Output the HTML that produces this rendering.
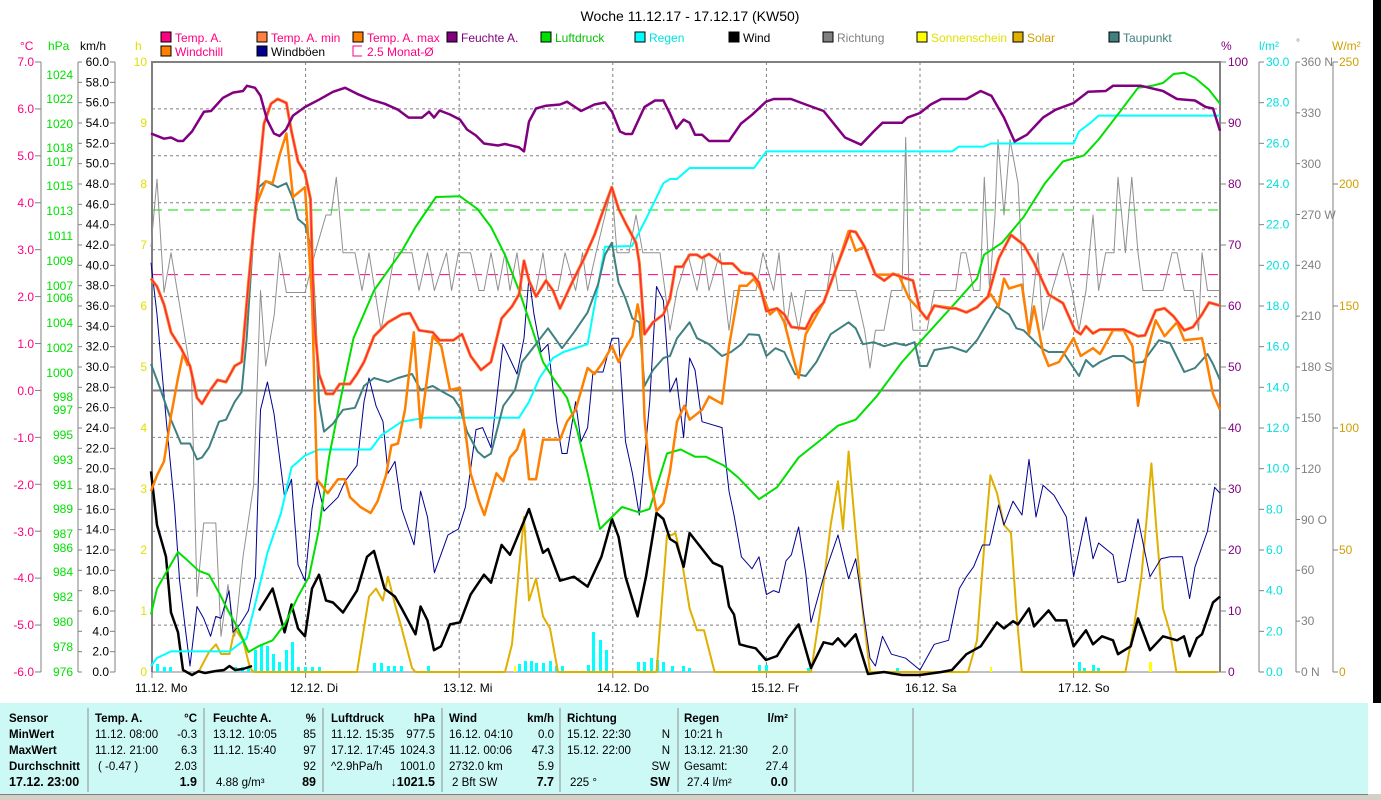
<!DOCTYPE html>
<html><head><meta charset="utf-8"><style>
html,body{margin:0;padding:0;background:#fff;}
svg{display:block;font-family:"Liberation Sans",sans-serif;}
</style></head><body>
<svg width="1381" height="800" viewBox="0 0 1381 800" xmlns="http://www.w3.org/2000/svg">
<rect x="0" y="0" width="1381" height="800" fill="#fff"/>
<rect x="1373" y="0" width="8" height="703" fill="#000"/>
<!-- title -->
<text x="690" y="21" font-size="14" text-anchor="middle" fill="#000">Woche 11.12.17 - 17.12.17 (KW50)</text>
<!-- legend -->
<g font-size="12">
<rect x="161" y="32" width="10" height="10" fill="#ff0080" stroke="#000"/><text x="175" y="42" fill="#ff0080">Temp. A.</text>
<rect x="257" y="32" width="10" height="10" fill="#ff8040" stroke="#000"/><text x="271" y="42" fill="#ff0080">Temp. A. min</text>
<rect x="353" y="32" width="10" height="10" fill="#ff8000" stroke="#000"/><text x="367" y="42" fill="#ff0080">Temp. A. max</text>
<rect x="447" y="32" width="10" height="10" fill="#800080" stroke="#000"/><text x="461" y="42" fill="#800080">Feuchte A.</text>
<rect x="541" y="32" width="10" height="10" fill="#00e000" stroke="#000"/><text x="555" y="42" fill="#00c000">Luftdruck</text>
<rect x="635" y="32" width="10" height="10" fill="#00ffff" stroke="#000"/><text x="649" y="42" fill="#00e0e0">Regen</text>
<rect x="729" y="32" width="10" height="10" fill="#000" stroke="#000"/><text x="743" y="42" fill="#000">Wind</text>
<rect x="823" y="32" width="10" height="10" fill="#808080" stroke="#000"/><text x="837" y="42" fill="#808080">Richtung</text>
<rect x="917" y="32" width="10" height="10" fill="#ffff00" stroke="#000"/><text x="931" y="42" fill="#e0e000">Sonnenschein</text>
<rect x="1013" y="32" width="10" height="10" fill="#e0b000" stroke="#000"/><text x="1027" y="42" fill="#d0a000">Solar</text>
<rect x="1109" y="32" width="10" height="10" fill="#408080" stroke="#000"/><text x="1123" y="42" fill="#408080">Taupunkt</text>
<rect x="161" y="46" width="10" height="10" fill="#ff8000" stroke="#000"/><text x="175" y="56" fill="#ff0080">Windchill</text>
<rect x="257" y="46" width="10" height="10" fill="#000090" stroke="#000"/><text x="271" y="56" fill="#000">Windböen</text>
<path d="M362 46 H353 V56 H362" fill="none" stroke="#ff0080"/><text x="367" y="56" fill="#ff0080">2.5 Monat-Ø</text>
</g>
<!-- axis headers -->
<g font-size="12">
<text x="20" y="50" fill="#ff0080">°C</text>
<text x="48" y="50" fill="#00e000">hPa</text>
<text x="80" y="50" fill="#000">km/h</text>
<text x="135" y="50" fill="#e0e000">h</text>
<text x="1221" y="50" fill="#800080">%</text>
<text x="1259" y="50" fill="#00e0e0">l/m²</text>
<text x="1296" y="46" fill="#808080" font-size="10">°</text>
<text x="1332" y="50" fill="#d0a000">W/m²</text>
</g>
<!-- left axes lines -->
<g stroke="#808080" stroke-width="1">
<line x1="41" y1="62" x2="41" y2="672"/><line x1="78" y1="62" x2="78" y2="672"/><line x1="115" y1="62" x2="115" y2="672"/>
<line x1="1259" y1="62" x2="1259" y2="672"/><line x1="1296" y1="62" x2="1296" y2="672"/><line x1="1333" y1="62" x2="1333" y2="672"/>
</g>
<g id="ticks" stroke="#808080"></g>
<!-- gridlines -->
<g stroke="#808080" stroke-dasharray="3,3" stroke-width="1">
<line x1="152" y1="108.9" x2="1220" y2="108.9"/><line x1="152" y1="155.8" x2="1220" y2="155.8"/>
<line x1="152" y1="202.8" x2="1220" y2="202.8"/><line x1="152" y1="249.7" x2="1220" y2="249.7"/>
<line x1="152" y1="296.6" x2="1220" y2="296.6"/><line x1="152" y1="343.5" x2="1220" y2="343.5"/>
<line x1="152" y1="437.4" x2="1220" y2="437.4"/><line x1="152" y1="484.3" x2="1220" y2="484.3"/>
<line x1="152" y1="531.2" x2="1220" y2="531.2"/><line x1="152" y1="578.2" x2="1220" y2="578.2"/>
<line x1="152" y1="625.1" x2="1220" y2="625.1"/>
<line x1="305.6" y1="62" x2="305.6" y2="672"/><line x1="459.2" y1="62" x2="459.2" y2="672"/>
<line x1="612.8" y1="62" x2="612.8" y2="672"/><line x1="766.4" y1="62" x2="766.4" y2="672"/>
<line x1="920" y1="62" x2="920" y2="672"/><line x1="1073.6" y1="62" x2="1073.6" y2="672"/>
</g>
<line x1="152" y1="390.5" x2="1220" y2="390.5" stroke="#808080" stroke-width="2"/>
<line x1="152" y1="210" x2="1220" y2="210" stroke="#00e000" stroke-dasharray="10,6"/>
<line x1="152" y1="274.6" x2="1220" y2="274.6" stroke="#ff0080" stroke-dasharray="10,6"/>
<!-- frame -->
<path d="M152 672 V62 H1220 V672" fill="none" stroke="#808080" stroke-width="2"/>
<line x1="152" y1="672" x2="1220" y2="672" stroke="#808080"/>
<g stroke="#808080"><line x1="152" y1="672" x2="152" y2="678"/><line x1="305.6" y1="672" x2="305.6" y2="678"/><line x1="459.2" y1="672" x2="459.2" y2="678"/><line x1="612.8" y1="672" x2="612.8" y2="678"/><line x1="766.4" y1="672" x2="766.4" y2="678"/><line x1="920" y1="672" x2="920" y2="678"/><line x1="1073.6" y1="672" x2="1073.6" y2="678"/></g>
<g font-size="12" fill="#000">
<text x="135" y="692">11.12.  Mo</text><text x="290" y="692">12.12.  Di</text><text x="443" y="692">13.12.  Mi</text>
<text x="597" y="692">14.12.  Do</text><text x="751" y="692">15.12.  Fr</text><text x="905" y="692">16.12.  Sa</text><text x="1058" y="692">17.12.  So</text>
</g>
<!-- axis labels -->
<g font-size="12" fill="#ff0080" text-anchor="end">
<text x="34" y="66">7.0</text><text x="34" y="113">6.0</text><text x="34" y="160">5.0</text><text x="34" y="207">4.0</text><text x="34" y="254">3.0</text><text x="34" y="301">2.0</text><text x="34" y="348">1.0</text><text x="34" y="395">0.0</text><text x="34" y="442">-1.0</text><text x="34" y="489">-2.0</text><text x="34" y="536">-3.0</text><text x="34" y="582">-4.0</text><text x="34" y="629">-5.0</text><text x="34" y="676">-6.0</text>
</g>
<g font-size="12" fill="#00e000" text-anchor="end">
<text x="73" y="79">1024</text><text x="73" y="103">1022</text><text x="73" y="128">1020</text><text x="73" y="152">1018</text><text x="73" y="166">1017</text><text x="73" y="190">1015</text><text x="73" y="215">1013</text><text x="73" y="240">1011</text><text x="73" y="265">1009</text><text x="73" y="290">1007</text><text x="73" y="302">1006</text><text x="73" y="327">1004</text><text x="73" y="352">1002</text><text x="73" y="377">1000</text><text x="73" y="401">998</text><text x="73" y="414">997</text><text x="73" y="439">995</text><text x="73" y="464">993</text><text x="73" y="489">991</text><text x="73" y="513">989</text><text x="73" y="538">987</text><text x="73" y="552">986</text><text x="73" y="576">984</text><text x="73" y="601">982</text><text x="73" y="626">980</text><text x="73" y="651">978</text><text x="73" y="676">976</text>
</g>
<g font-size="12" fill="#000" text-anchor="end" id="kmh"></g>
<g font-size="12" fill="#e0e000" text-anchor="end">
<text x="147" y="66">10</text><text x="147" y="127">9</text><text x="147" y="188">8</text><text x="147" y="249">7</text><text x="147" y="310">6</text><text x="147" y="371">5</text><text x="147" y="432">4</text><text x="147" y="493">3</text><text x="147" y="554">2</text><text x="147" y="615">1</text><text x="147" y="676">0</text>
</g>
<g font-size="12" fill="#800080">
<text x="1228" y="66">100</text><text x="1228" y="127">90</text><text x="1228" y="188">80</text><text x="1228" y="249">70</text><text x="1228" y="310">60</text><text x="1228" y="371">50</text><text x="1228" y="432">40</text><text x="1228" y="493">30</text><text x="1228" y="554">20</text><text x="1228" y="615">10</text><text x="1228" y="676">0</text>
</g>
<g font-size="12" fill="#00e0e0" id="lm2"></g>
<g font-size="12" fill="#808080">
<text x="1301" y="66">360 N</text><text x="1301" y="117">330</text><text x="1301" y="168">300</text><text x="1301" y="219">270 W</text><text x="1301" y="269">240</text><text x="1301" y="320">210</text><text x="1301" y="371">180 S</text><text x="1301" y="422">150</text><text x="1301" y="473">120</text><text x="1301" y="524">90  O</text><text x="1301" y="574">60</text><text x="1301" y="625">30</text><text x="1301" y="676">0  N</text>
</g>
<g font-size="12" fill="#d0a000">
<text x="1339" y="66">250</text><text x="1339" y="188">200</text><text x="1339" y="310">150</text><text x="1339" y="432">100</text><text x="1339" y="554">50</text><text x="1339" y="676">0</text>
</g>
<g stroke="#808080">
<line x1="1220" y1="62" x2="1226" y2="62"/><line x1="1220" y1="123" x2="1226" y2="123"/><line x1="1220" y1="184" x2="1226" y2="184"/><line x1="1220" y1="245" x2="1226" y2="245"/><line x1="1220" y1="306" x2="1226" y2="306"/><line x1="1220" y1="367" x2="1226" y2="367"/><line x1="1220" y1="428" x2="1226" y2="428"/><line x1="1220" y1="489" x2="1226" y2="489"/><line x1="1220" y1="550" x2="1226" y2="550"/><line x1="1220" y1="611" x2="1226" y2="611"/><line x1="1220" y1="672" x2="1226" y2="672"/>
<line x1="1333" y1="62" x2="1338" y2="62"/><line x1="1333" y1="184" x2="1338" y2="184"/><line x1="1333" y1="306" x2="1338" y2="306"/><line x1="1333" y1="428" x2="1338" y2="428"/><line x1="1333" y1="550" x2="1338" y2="550"/><line x1="1333" y1="672" x2="1338" y2="672"/>
</g>

<!-- series -->
<g fill="#00ffff">
<rect x="156" y="664" width="3" height="8"/><rect x="163" y="667" width="3" height="5"/><rect x="169" y="667" width="3" height="5"/>
<rect x="234" y="667" width="3" height="5"/><rect x="241" y="667" width="3" height="5"/><rect x="247" y="667" width="3" height="5"/>
<rect x="254" y="650" width="3" height="22"/><rect x="260" y="644" width="3" height="28"/><rect x="266" y="646" width="3" height="26"/><rect x="272" y="654" width="3" height="18"/><rect x="278" y="662" width="3" height="10"/><rect x="285" y="650" width="3" height="22"/><rect x="291" y="642" width="3" height="30"/>
<rect x="297" y="667" width="3" height="5"/><rect x="304" y="667" width="3" height="5"/><rect x="311" y="667" width="3" height="5"/><rect x="318" y="667" width="3" height="5"/>
<rect x="373" y="663" width="3" height="9"/><rect x="380" y="663" width="3" height="9"/><rect x="387" y="666" width="3" height="6"/><rect x="393" y="666" width="3" height="6"/><rect x="400" y="666" width="3" height="6"/><rect x="427" y="666" width="3" height="6"/>
<rect x="518" y="664" width="3" height="8"/><rect x="524" y="661" width="3" height="11"/><rect x="530" y="661" width="3" height="11"/><rect x="535" y="663" width="3" height="9"/><rect x="542" y="663" width="3" height="9"/><rect x="549" y="661" width="3" height="11"/><rect x="555" y="666" width="3" height="6"/><rect x="561" y="666" width="3" height="6"/>
<rect x="587" y="665" width="3" height="7"/><rect x="592" y="632" width="3" height="40"/><rect x="599" y="640" width="3" height="32"/><rect x="605" y="650" width="3" height="22"/>
<rect x="637" y="662" width="3" height="10"/><rect x="643" y="662" width="3" height="10"/><rect x="650" y="658" width="3" height="14"/><rect x="656" y="660" width="3" height="12"/><rect x="662" y="662" width="3" height="10"/>
<rect x="671" y="666" width="3" height="6"/><rect x="682" y="666" width="3" height="6"/><rect x="688" y="668" width="3" height="4"/>
<rect x="758" y="665" width="3" height="7"/><rect x="765" y="665" width="3" height="7"/><rect x="807" y="668" width="3" height="4"/><rect x="896" y="668" width="3" height="4"/>
<rect x="1078" y="662" width="3" height="10"/><rect x="1083" y="668" width="3" height="4"/><rect x="1092" y="665" width="3" height="7"/><rect x="1097" y="668" width="3" height="4"/>
</g>
<g fill="#ffff00"><rect x="514" y="666" width="2" height="6"/><rect x="990" y="667" width="2" height="5"/><rect x="1149" y="662" width="3" height="10"/></g>

<g fill="none" stroke-linejoin="round">
<!-- Richtung -->
<polyline stroke="#909090" stroke-width="1" points="151,246.8 157,179.2 164,292.5 171,252.8 191.6,378 197,596.6 203.7,523 215.8,523 221,636.3 228,584.6 234.7,636.3 243,556.8 253.6,485.3 260.5,290.5 265.7,366 274.3,314.4 279.5,252.8 286.4,292.5 305,292.5 315.6,250.8 326,215 331,215 336.3,177.2 343,252.8 355,252.8 362,290.5 369,252.8 381,330.3 394.8,252.8 412,252.8 419,290.5 427.5,252.8 434.4,290.5 446.5,252.8 451.6,290.5 458.5,252.8 470.6,252.8 479,290.5 484,290.5 491,252.8 498,290.5 505,252.8 510,290.5 517,252.8 522,290.5 536,290.5 543,252.8 548,290.5 558,290.5 565,252.8 575.6,290.5 582.5,252.8 587.6,290.5 596,252.8 611.8,187.2 617,252.8 629,252.8 636,215 642.8,252.8 660,252.8 665,290.5 670,330.3 677,290.5 688,254.8 697,290.5 704,254.8 709,290.5 720,252.8 729,330.3 734,290.5 756,290.5 763,252.8 773.6,290.5 779,252.8 786,330.3 791.4,292.5 798.6,330.3 805.7,290.5 827,290.5 832.5,252.8 838,290.5 855.7,290.5 864.6,330.3 870,368 875.4,330.3 884,330.3 891.4,290.5 902,290.5 905.7,137.5 909,290.5 913,330.3 927,330.3 934.3,290.5 955.7,290.5 961,252.8 966,252.8 973.6,290.5 980,290.5 984.3,177.2 989.6,290.5 995,215 998,139.5 1004,215 1010,139.5 1018,183 1023.6,290.5 1029,330.3 1038,252.8 1043,330.3 1052,290.5 1063,252.8 1072,290.5 1079,330.3 1086,290.5 1093,215 1098.6,290.5 1105.7,252.8 1114,252.8 1118,177.2 1125.4,252.8 1131.8,177.2 1138,252.8 1143,290.5 1163,290.5 1172,252.8 1177,252.8 1184.3,290.5 1193,290.5 1198.6,330.3 1202,252.8 1207.5,290.5 1220,290.5"/>
<!-- Solar -->
<polyline stroke="#e0b000" stroke-width="2" points="198.5,672 209,652 216,644.3 221,654 229.5,654 234.7,628.4 243,640.3 250,668 253.6,672 357,672 369,596.6 376,588.6 382.8,600.5 388,576.7 395,604.5 401.7,628.4 412,668 415.5,672 505,672 512,644.3 519,568.7 524,517 529,600.5 536,578.7 543,616.4 550,628.4 558,672 656.5,672 667,535 672,535 675.4,533 682.5,564.8 689.6,608.5 697,630.3 704,630.3 714.6,672 811,672 820,612.5 830.7,525 838,481.3 843,529 848.6,451.5 855.7,533 862.9,612.5 870,672 968,672 977,640.3 984.3,545 990.4,475.3 997,493.2 1004,525 1011,533 1016.4,612.5 1021.8,672 1125.4,672 1134.3,624.4 1141.4,576.7 1146.8,517 1151.4,463.4 1156.4,529 1163,608.5 1170,632.3 1176.4,672 1218,672"/>
<!-- Windboeen -->
<polyline stroke="#000090" stroke-width="1" points="151,262.7 157,314.4 166,417.7 174.4,505 179.6,580.7 184.8,624.4 190,666 197,606.5 203.7,618.4 210.6,636.3 215.8,616.4 221,618.4 229,590.6 233,632.3 240,624.4 248.5,610.5 255.4,576.7 260.5,409.8 267.4,382 274,413.7 284.6,497.2 291.5,479.3 298,564.8 305,580.7 312,509 317,481.3 324,511.1 338,497.2 345,481.3 357,465.4 364,401.8 369,378 376,405.8 383,421.7 388,473.3 395,461.4 401.7,509 414,544.9 420.6,491.2 427.5,517 434.4,572.7 448,534.9 458.5,529 465.4,507 476,429.6 482.6,427.6 491,447.5 503,344.2 517,374 524,338.2 529,276.6 534,314.4 541,352 548,344.2 556.7,421.7 562,453.5 567,453.5 575.6,401.8 581,441.6 587.6,427.6 593,372 603,372 612,338.2 618.6,338.2 625.5,441.6 632.4,473.3 639.3,515 649.7,401.8 656.5,286.5 663.4,300.5 670,392 676.4,378 683.6,437.6 689.6,358 695,370 702,421.7 722,427.6 729,491.2 734,515 741.4,556.8 752,568.7 759,556.8 766.4,594.6 773.6,590.6 779,592.6 786,560.8 791.4,554.8 798.6,527 805.7,572.7 811,622.4 823.6,576.7 838,535 848.6,578.7 855.7,558.8 870,658.2 875.4,666 882.5,636.3 891.4,654.2 905.7,658.2 920,670 934.3,644.3 948.6,640.3 959.3,588.6 966.4,576.7 973.6,566.8 982.5,545 989.6,545 998.6,505 1004,525 1013,501.2 1022,515 1029,459.4 1036,517 1043,485.3 1054,495.2 1066.4,517 1073.6,576.7 1086,517 1093,558.8 1098.6,543 1113,554.8 1118,582.7 1125.4,580.7 1138,519 1150,576.7 1161,558.8 1170,556.8 1182.5,556.8 1189.6,598.6 1195,566.8 1207.5,531 1214.6,487.3 1220,493.2"/>
<!-- Wind -->
<polyline stroke="#000" stroke-width="2.5" points="151,471.4 157,525 166,556.8 171,612.5 178,632.3 183,670 192,675 198.5,671.3 205,673 216,671 224,670 229.5,666 235,670 243,669 252,666"/>
<polyline stroke="#000" stroke-width="2.5" points="259,610.5 272.6,588.6 284.6,632.3 291.5,604.5 298,628.4 305,636.3 312,588.6 319,574.7 326,600.5 333,602.5 343,612.5 357,590.6 367,556.8 374,550.9 384.5,588.6 395,596.6 401.7,608.5 415.5,634.3 420.6,606.5 427.5,620.4 434,650.2 441,646.3 450,624.4 460,622.4 470.6,594.6 484,574.7 491,582.7 501.6,544.9 510,554.8 529,509 543,552.8 548,548.9 560,580.7 574,576.7 587.6,586.6 601.4,556.8 612,519 618.6,537 625.5,576.7 637.6,616.4 646,576.7 656.5,513 663.4,519 670,539 676.4,543 683.6,566.8 689.6,533 702,548.9 713,562.8 722,566.8 729,606.5 734,614.5 739.6,644.3 747,646.3 755.7,648.3 766,660 777,656 788,638.3 798.6,624.4 811,668 823.6,642.3 832.5,644.3 838,638.3 845,646.3 855.7,634.3 868,674 884,672 902,675 920,675 941.4,672 952,670 966.4,654.2 980.7,646.3 997,622.4 1004,628.4 1013,621.2 1018,624.4 1029,608.5 1034,626.4 1048.6,610.5 1055.7,620.4 1066.4,620.4 1073.6,646.3 1086,630.3 1093,644.3 1102,636.3 1113,640.3 1118,654.2 1130.7,646.3 1138,618.4 1150,650.2 1163,636.3 1177,640.3 1184,636.3 1189.6,656.2 1196.8,638.3 1202,634.3 1213,602.5 1220,596.6"/>
<!-- Regen -->
<polyline stroke="#00ffff" stroke-width="2" points="151,666 157,658 171,651.4 229.5,651.4 246.7,638.3 257,596.6 267.4,552.8 281,513 291.5,467.4 305,455.5 319,449.5 370.7,449.5 381,435.6 401.7,421.7 426,417.7 519,417.7 529,401.8 539.5,378 553,358 563.6,352 587.6,344.2 605,246.8 632,246 646,219 663.4,183.2 670,179 677,179 689.6,168 754,168 766.4,151.4 952,151.4 959,146.6 984,146.6 991,143.5 1073.6,143.5 1079,131.5 1089.6,123.6 1098.6,115.6 1220,115.6"/>
<!-- Luftdruck -->
<polyline stroke="#00e000" stroke-width="2" points="151,614.5 157,588.6 166,572.7 178,552 188,560.8 198.5,570.7 209,574.7 219,592.6 228,610.5 238,628.4 248.5,652 259,646 272.6,640.3 284.6,624.4 298,596.6 309,576.7 319,529 329,457.5 340,401.8 353.5,338.2 374,290.5 402,250.8 415.5,227 436,197 460,196.3 477.5,209 491,227 505,254.8 519,290.5 532.6,330.3 543,362 553,378 567,397.8 577,429.6 587.6,473.3 600,529 608,521 622,507 639,512.3 649.6,509 667,453.5 680.7,449.5 695,456.7 705.7,456.7 723.6,465.4 738,477.3 759,499.2 777,487.3 798.6,457.5 823.6,437.6 838,425.7 855.7,419.7 877,395.9 902,362 927,334.2 955.7,302.5 977,278.6 984,254.8 1002,242.8 1023.6,217 1045,183.2 1063,161.4 1084,155.4 1098.6,139.5 1120,111.7 1138,87.8 1152,85.8 1163,83 1173.6,74 1184,72.7 1195,77.9 1209,89.8 1220,103.7"/>
<!-- Taupunkt -->
<polyline stroke="#408080" stroke-width="2" points="151,364 160.7,390 171,419.7 181,443.5 190,443.5 197,459.4 202,457.5 209,447.5 219,421.7 226,419.7 234.7,401.8 241.6,392 246.7,338.2 253.6,231 258.8,187.2 265.7,181.2 277.7,187.2 286.4,183.2 293,199 298,219 305,225 312,250.8 315.6,322.3 319,401.8 324,431.6 333,423.7 343,409.8 355,407.8 364,386 374,378 388,382 398,378 412,374 420.6,389.9 432.7,386 443,392 453.4,397.8 460,407.8 467,431.6 477.5,451.5 484.4,457.5 491,453.5 503.3,405.8 515,389.9 522,362 534.3,346.2 548,328.3 562,348.2 574,332.3 587.6,312.4 598,284.6 605,254.8 611.8,242.8 618.6,282.6 625.5,298.5 632.4,318.4 639.3,322.3 644.5,386 653,370 663.4,358 670,356 677,338.2 689.6,322.3 697,338.2 709,344.2 722,356 731,352 741.4,344.2 748.6,334.2 759,335 766.4,356 775.4,348.2 784.3,352 795,374 805.7,376 816.4,362 830.7,334.2 848.6,322.3 855.7,328.3 862.9,344.2 873.6,342.2 884.3,346.2 895,343 905.7,345.4 914.6,342.2 920,366 927,366 934.3,350 952,347 966.4,352 977,340.2 996.8,306.4 1009,314.4 1016.4,328.3 1023.6,330.3 1041.4,348.2 1048.6,352 1063,352 1079,376 1086,360 1093,366.8 1100,362 1113,356 1123.6,356 1134.3,362.8 1143,362 1159,340.2 1170,343 1184.3,372 1195,368 1207.5,354 1213,364 1220,380"/>
<!-- Temp max / min orange -->
<polyline stroke="#ff8000" stroke-width="2.5" points="151,491.2 157,475.3 164,461.4 171,415.7 178,378 183,354 188,366"/>
<polyline stroke="#ff8000" stroke-width="2.5" points="241.6,362 250,270.6 255.4,207 265.7,181.2 272.6,183.2 279.5,155.4 286.4,133.5 293,197 305,187.2 312,298.5 317,479.3 327.7,493.2 338,479.3 345,479.3 350,497.2 360.4,507 370.7,513 377.6,501.2 386,475.3 391.4,445.5 398,443.5 405,409.8 413.8,332.3 420.6,427.6 432.7,336.2 441.3,346.2 450,389.9 460,387.9 470.6,473.3 479,501.2 484.4,515 496.4,473.3 503.3,481.3 510,457.5 517,449.5 524,429.6 529,479.3 536,479.3 543,439.6 560,439.6 567,421.7 575.6,409.8 587.6,368 594.5,374 603,362 612,346.2 618.6,362 624,350 632.4,336.2 637.6,304.4 641,322.3 644.5,417.7 649.7,475.3 656.5,511 663.4,503.2 670,471.4 677,421.7 684.3,405.8 689.6,419.7 702,409.8 709,396.6 722,403.8 729,346.2 739.6,285.8 746.8,285.8 754,278.6 761,290.5 770,314.4 777,308.4 784.3,322.3 798.6,378 805.7,334.2 823.6,302.5 834.3,274.6 848.6,231 855.7,250.8 864.6,246.8 875.4,274.6 898.6,274.6 909,298.5 920,310.4 927,319 934.3,305.6 955.7,308.4 966.4,312.4 977,307.2 991,294.5 998.6,306.4 1004,278.6 1009,288.5 1021.8,284.6 1029,334.2 1034,306.4 1043,352 1048.6,366 1059,362 1073.6,338.2 1080.7,356 1093,348.2 1100,354 1113,330.3 1123.6,330.3 1132.5,346.2 1138,405.8 1147,352 1155.7,320.3 1164.6,336.2 1177,322.3 1184.3,340.2 1202,338.2 1213,393.9 1220,409.8"/>
<!-- Temp A / Windchill -->
<polyline stroke="#ff8000" stroke-width="3" points="151,278.6 157,286.5 164,304.4 171,332.3 181,348.2 190,366 197,397.8 202,403.8 209,391.9 217.5,380 226,382 234.7,366 241.6,362 248.5,282.6 255.4,211 264,123.6 271,103.7 277.7,99 286.4,103 291.5,131.5 298,161.4 305,173.3 310.5,199 314,318.4 319,374 326,393.9 333,393.9 339.7,384 350,384 357,374 364,362 374,336.2 388,322.3 401.7,314.4 410,313.2 419,330.3 432.7,332.3 439.6,340.2 453.4,340.2 462,334.2 470.6,356 481,370 491,362 501.6,318.4 512,306.4 519,294.5 524,260.7 529,280.6 536,296.5 546,280.6 553,290.5 560,308.4 572,282.6 584,258.7 594.5,234.9 603,211 611.8,187.2 618.6,209 625.5,223 636,242.8 639.3,262.7 644.5,334.2 653,322.3 663.4,314.4 670,298.5 675.4,266.7 682.5,266.7 689.6,254.8 697,254.8 702,258 709,254 722,263.5 732.5,263.5 741.4,272.6 752,273.8 759,282.6 766.4,311.2 777,308.4 784.3,314.4 791.4,327 805.7,328.7 812.8,314.4 823.6,302.5 836,268.7 850.4,231 855.7,232 864.6,246.8 875.4,274.6 884.3,280.6 893,273.8 904,277.8 913,280.6 920,310.4 927,319 934.3,305.6 948.6,308.4 955.7,308.4 966.4,312.4 977,307.2 988,296.5 998.6,258.7 1011,234.9 1023.6,244.8 1034,262.7 1048.6,294.5 1063,303.2 1075,330.3 1080.7,334.2 1086,326.3 1093,333.4 1100,329.5 1123.6,329.5 1138,336.2 1145,335.4 1155.7,310.4 1164.6,308.4 1173.6,316.4 1184.3,330.3 1193,327 1202,314.4 1209,302.5 1220,305.6"/>
<polyline stroke="#ff2060" stroke-width="1.3" points="151,278.6 157,286.5 164,304.4 171,332.3 181,348.2 190,366 197,397.8 202,403.8 209,391.9 217.5,380 226,382 234.7,366 241.6,362 248.5,282.6 255.4,211 264,123.6 271,103.7 277.7,99 286.4,103 291.5,131.5 298,161.4 305,173.3 310.5,199 314,318.4 319,374 326,393.9 333,393.9 339.7,384 350,384 357,374 364,362 374,336.2 388,322.3 401.7,314.4 410,313.2 419,330.3 432.7,332.3 439.6,340.2 453.4,340.2 462,334.2 470.6,356 481,370 491,362 501.6,318.4 512,306.4 519,294.5 524,260.7 529,280.6 536,296.5 546,280.6 553,290.5 560,308.4 572,282.6 584,258.7 594.5,234.9 603,211 611.8,187.2 618.6,209 625.5,223 636,242.8 639.3,262.7 644.5,334.2 653,322.3 663.4,314.4 670,298.5 675.4,266.7 682.5,266.7 689.6,254.8 697,254.8 702,258 709,254 722,263.5 732.5,263.5 741.4,272.6 752,273.8 759,282.6 766.4,311.2 777,308.4 784.3,314.4 791.4,327 805.7,328.7 812.8,314.4 823.6,302.5 836,268.7 850.4,231 855.7,232 864.6,246.8 875.4,274.6 884.3,280.6 893,273.8 904,277.8 913,280.6 920,310.4 927,319 934.3,305.6 948.6,308.4 955.7,308.4 966.4,312.4 977,307.2 988,296.5 998.6,258.7 1011,234.9 1023.6,244.8 1034,262.7 1048.6,294.5 1063,303.2 1075,330.3 1080.7,334.2 1086,326.3 1093,333.4 1100,329.5 1123.6,329.5 1138,336.2 1145,335.4 1155.7,310.4 1164.6,308.4 1173.6,316.4 1184.3,330.3 1193,327 1202,314.4 1209,302.5 1220,305.6"/>
<!-- Feuchte -->
<polyline stroke="#800080" stroke-width="2.5" points="151,133.5 164,138.7 171,137.5 178,141 183,141 192,131.5 204,111.7 211,111 223,97.8 233,92.6 243,91 247,85.8 255,87.8 260.5,95.8 267,119.6 274,133.5 279.5,136 286,129.5 293,115.6 305,107 319,99.7 333,91.8 345,87.8 357,93.8 371,99.7 384.5,103.7 398,109.7 408.6,117.6 422,117.6 429,111.7 434,117.6 439.6,110.5 450,114.5 460,119.6 467,129.5 476,135.5 484,143.5 498,145.5 505,144 519,147.4 524,151.4 529,121.6 536,108.5 546,105.7 560,104.5 567,101.7 581,111 594.5,104.5 605,102.5 612,111.7 620,131.5 625.5,134 632,134 644.5,107 655,100.5 663.4,100.5 670,113.7 676.4,128.4 683.6,119.6 689.6,122.8 695,134.7 702,134.7 709,141 729,141 741,123.6 752,114.8 766,101.7 773.6,99 791,99 805.7,104.5 823.6,111 845,137.5 861,144.7 873.6,131.5 882.5,122.8 902,122.8 907.5,117.6 920,113 930.7,104.5 941.4,99 966.4,99 980.7,91 991.4,95.8 1004,117.6 1014.6,141.5 1027,134.7 1043,117.6 1055.7,109.7 1073.6,103 1088,91.8 1105.7,91 1113,85.8 1141,85.8 1163,91 1177,99 1195,100.5 1205.7,107 1213,108.5 1220,130.7"/>
</g>

<!-- bottom table -->
<rect x="0" y="703" width="1368" height="91" fill="#ccf8f6"/>
<rect x="0" y="794" width="1381" height="6" fill="#d4d0c8"/>
<line x1="0" y1="794.5" x2="1368" y2="794.5" stroke="#808080"/>
<g stroke="#909090"><line x1="88" y1="708" x2="88" y2="792"/><line x1="204" y1="708" x2="204" y2="792"/><line x1="323" y1="708" x2="323" y2="792"/><line x1="442" y1="708" x2="442" y2="792"/><line x1="560" y1="708" x2="560" y2="792"/><line x1="678" y1="708" x2="678" y2="792"/><line x1="795" y1="708" x2="795" y2="792"/><line x1="913" y1="708" x2="913" y2="792"/></g>
<g font-size="11.5" fill="#000">
<g font-weight="bold"><text x="9" y="722">Sensor</text><text x="9" y="738">MinWert</text><text x="9" y="754">MaxWert</text><text x="9" y="770">Durchschnitt</text><text x="9" y="786" font-size="12.5">17.12. 23:00</text>
<text x="95" y="722">Temp. A.</text><text x="197" y="722" text-anchor="end">°C</text>
<text x="213" y="722">Feuchte A.</text><text x="316" y="722" text-anchor="end">%</text>
<text x="331" y="722">Luftdruck</text><text x="435" y="722" text-anchor="end">hPa</text>
<text x="449" y="722">Wind</text><text x="554" y="722" text-anchor="end">km/h</text>
<text x="567" y="722">Richtung</text>
<text x="684" y="722">Regen</text><text x="788" y="722" text-anchor="end">l/m²</text>
<g font-size="12.5"><text x="197" y="786" text-anchor="end">1.9</text><text x="316" y="786" text-anchor="end">89</text><text x="435" y="786" text-anchor="end">↓1021.5</text><text x="554" y="786" text-anchor="end">7.7</text><text x="670" y="786" text-anchor="end">SW</text><text x="788" y="786" text-anchor="end">0.0</text></g>
</g>
<text x="95" y="738">11.12.  08:00</text><text x="197" y="738" text-anchor="end">-0.3</text>
<text x="95" y="754">11.12.  21:00</text><text x="197" y="754" text-anchor="end">6.3</text>
<text x="98" y="770">( -0.47 )</text><text x="197" y="770" text-anchor="end">2.03</text>
<text x="213" y="738">13.12.  10:05</text><text x="316" y="738" text-anchor="end">85</text>
<text x="213" y="754">11.12.  15:40</text><text x="316" y="754" text-anchor="end">97</text>
<text x="316" y="770" text-anchor="end">92</text><text x="216" y="786">4.88 g/m³</text>
<text x="331" y="738">11.12.  15:35</text><text x="435" y="738" text-anchor="end">977.5</text>
<text x="331" y="754">17.12.  17:45</text><text x="435" y="754" text-anchor="end">1024.3</text>
<text x="331" y="770">^2.9hPa/h</text><text x="435" y="770" text-anchor="end">1001.0</text>
<text x="449" y="738">16.12.  04:10</text><text x="554" y="738" text-anchor="end">0.0</text>
<text x="449" y="754">11.12.  00:06</text><text x="554" y="754" text-anchor="end">47.3</text>
<text x="449" y="770">2732.0 km</text><text x="554" y="770" text-anchor="end">5.9</text>
<text x="452" y="786">2 Bft SW</text>
<text x="567" y="738">15.12.  22:30</text><text x="670" y="738" text-anchor="end">N</text>
<text x="567" y="754">15.12.  22:00</text><text x="670" y="754" text-anchor="end">N</text>
<text x="670" y="770" text-anchor="end">SW</text><text x="570" y="786">225 °</text>
<text x="684" y="738">10:21 h</text>
<text x="684" y="754">13.12.  21:30</text><text x="788" y="754" text-anchor="end">2.0</text>
<text x="684" y="770">Gesamt:</text><text x="788" y="770" text-anchor="end">27.4</text>
<text x="687" y="786">27.4 l/m²</text>
</g>
</svg>
<script>
(function(){
var ns="http://www.w3.org/2000/svg";
var k=document.getElementById("kmh"),l=document.getElementById("lm2"),t=document.getElementById("ticks");
function el(p,tag,a,txt){var e=document.createElementNS(ns,tag);for(var n in a)e.setAttribute(n,a[n]);if(txt!=null)e.textContent=txt;p.appendChild(e);}
for(var v=60;v>=0;v-=2){var y=62+(60-v)*10.1667;el(k,"text",{x:109,y:(y+4).toFixed(1)},v.toFixed(1));el(t,"line",{x1:78,y1:y,x2:82,y2:y});el(t,"line",{x1:110,y1:y,x2:115,y2:y});}
for(var v=30;v>=0;v-=2){var y=62+(30-v)*20.333;el(l,"text",{x:1266,y:(y+4).toFixed(1)},v.toFixed(1));el(t,"line",{x1:1259,y1:y,x2:1264,y2:y});}
for(var i=0;i<=13;i++){var y=62+i*46.92;el(t,"line",{x1:35,y1:y,x2:41,y2:y});}
for(var i=0;i<=12;i++){var y=62+i*50.83;el(t,"line",{x1:1296,y1:y,x2:1300,y2:y});}
})();
</script>
</body></html>
